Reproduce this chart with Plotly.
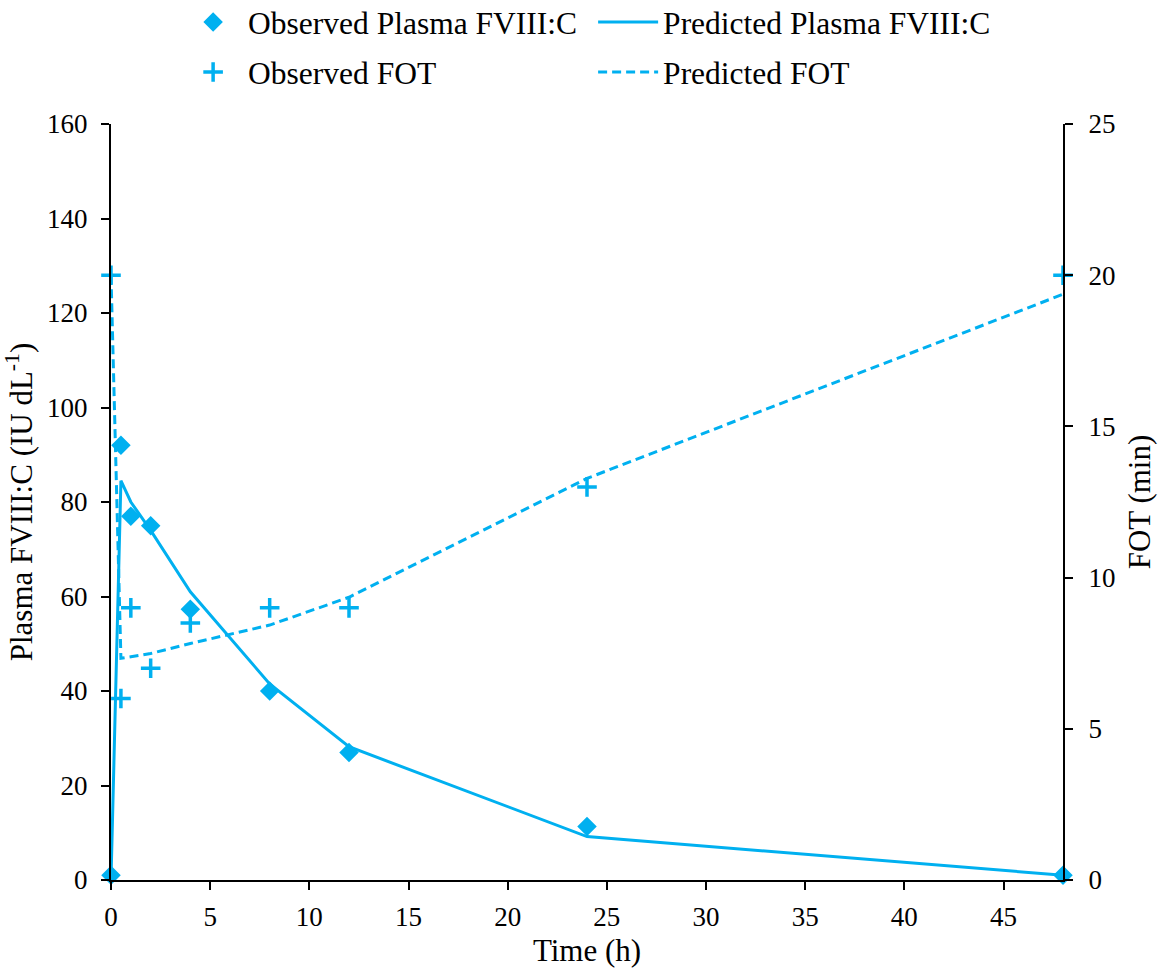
import plotly.graph_objects as go

# Sampling times (h)
time_h = [0, 0.5, 1, 2, 4, 8, 12, 24, 48]

# Plasma FVIII:C (IU/dL)
obs_fviii = [1, 92, 77, 75, 57.3, 40, 27, 11.3, 1]
pred_fviii = [0, 84.5, 80, 74, 61, 41.5, 28.2, 9.2, 1]

# Factor VIII onset time, FOT (min)
obs_fot = [20, 6, 9, 7, 8.5, 9, 9, 13, 20]
pred_fot = [20, 7.33, 7.38, 7.49, 7.82, 8.43, 9.35, 13.28, 19.37]

x_ticks = [0, 5, 10, 15, 20, 25, 30, 35, 40, 45]

BLUE = "#00B0F0"
FONT = "Liberation Serif, Times New Roman, serif"

W, H = 1159, 976
M_L, M_R, M_T, M_B = 111, 96, 124, 96

fig = go.Figure()

fig.add_trace(go.Scatter(
    x=time_h, y=obs_fviii, mode="markers", name="Observed Plasma FVIII:C",
    marker=dict(symbol="diamond", size=15, color=BLUE),
    cliponaxis=False, legend="legend",
))
fig.add_trace(go.Scatter(
    x=time_h, y=pred_fviii, mode="lines", name="Predicted Plasma FVIII:C",
    line=dict(color=BLUE, width=3), legend="legend",
))
fig.add_trace(go.Scatter(
    x=time_h, y=obs_fot, mode="markers", name="Observed FOT", yaxis="y2",
    marker=dict(symbol="cross-thin", size=14, color=BLUE,
                line=dict(color=BLUE, width=3.5)),
    cliponaxis=False, legend="legend2",
))
fig.add_trace(go.Scatter(
    x=time_h, y=pred_fot, mode="lines", name="Predicted FOT", yaxis="y2",
    line=dict(color=BLUE, width=3, dash="9px,5px"), legend="legend2",
))

axis_common = dict(
    showline=True, linecolor="black", linewidth=2,
    ticks="outside", ticklen=8, tickwidth=2, tickcolor="black",
    showgrid=False, zeroline=False,
    tickfont=dict(family=FONT, size=27, color="black"),
)

legend_common = dict(
    orientation="h", xanchor="left", yanchor="middle",
    x=0.0705, entrywidth=340, itemwidth=60,
    font=dict(family=FONT, size=31.5, color="black"),
    bgcolor="rgba(0,0,0,0)",
)

plot_h = H - M_T - M_B

fig.update_layout(
    width=W, height=H,
    margin=dict(l=M_L, r=M_R, t=M_T, b=M_B, autoexpand=False),
    paper_bgcolor="white", plot_bgcolor="white",
    font=dict(family=FONT, size=31, color="black"),
    showlegend=True,
    xaxis=dict(
        range=[0, 48], tickvals=x_ticks, ticklabelstandoff=4,
        title=dict(text="Time (h)", font=dict(family=FONT, size=31), standoff=8),
        **axis_common,
    ),
    yaxis=dict(
        range=[0, 160], dtick=20, ticklabelstandoff=8,
        title=dict(text="Plasma FVIII:C (IU dL<sup>-1</sup>)",
                   font=dict(family=FONT, size=31), standoff=6),
        **axis_common,
    ),
    yaxis2=dict(
        range=[0, 25], dtick=5, overlaying="y", side="right", ticklabelstandoff=10,
        title=dict(text="FOT (min)", font=dict(family=FONT, size=31), standoff=14),
        **axis_common,
    ),
    # legend rows sit above the plotting area (row centres 22 px and 72 px from the top)
    legend=dict(y=1 + (M_T - 22) / plot_h, **legend_common),
    legend2=dict(y=1 + (M_T - 72) / plot_h, **legend_common),
)

fig.write_html("out.html")
